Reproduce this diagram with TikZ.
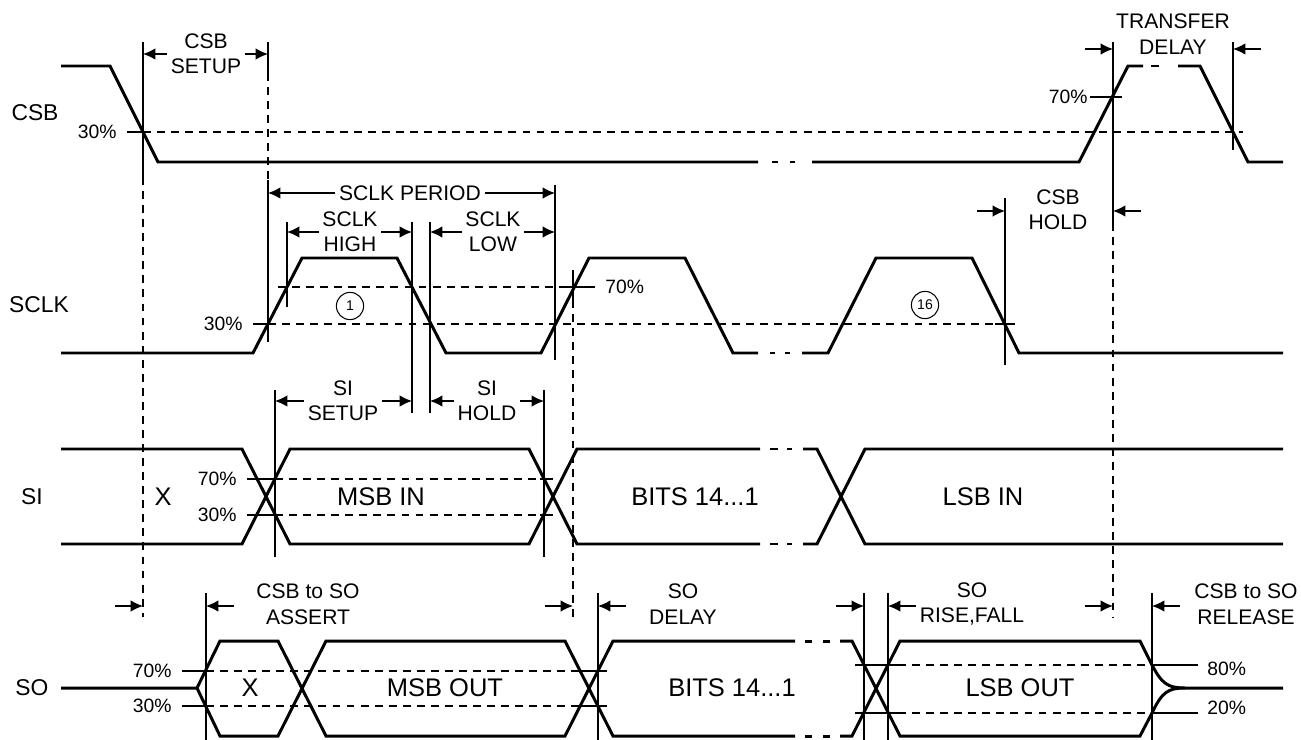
\documentclass[tikz,border=0pt]{standalone}
\usepackage{fontspec}
\setmainfont{Liberation Sans}
\usepackage{tikz}
\usetikzlibrary{arrows.meta, positioning}
\tikzstyle{wave} = [line width=1.7pt, line join=miter]
\tikzstyle{guide} = [line width=0.75pt]
\tikzstyle{level} = [line width=0.75pt, dash pattern=on 4.5pt off 3.5pt]
\tikzstyle{dim} = [line width=0.75pt, -{Latex[length=7pt, width=6.5pt]}]
\tikzstyle{rowlabel} = [font=\fontsize{13}{15}\selectfont]
\tikzstyle{datalabel} = [font=\fontsize{14.5}{17}\selectfont]
\tikzstyle{dimlabel} = [font=\fontsize{12}{14.5}\selectfont, align=center, inner sep=2pt]
\tikzstyle{pct} = [font=\fontsize{11}{13}\selectfont, inner sep=0pt]
\tikzstyle{bitnum} = [circle, draw, line width=0.6pt, minimum size=15.5pt, inner sep=0pt, font=\fontsize{8}{9}\selectfont]

\begin{document}
\begin{tikzpicture}[x=0.02cm, y=-0.02cm]
        \useasboundingbox (0,0) rectangle (1301,740);

        % Signal names
        \node (csb) [rowlabel] at (35,113) {CSB};
        \node (sclk) [rowlabel] at (39,305) {SCLK};
        \node (si) [rowlabel] at (32,497) {SI};
        \node (so) [rowlabel] at (32,688) {SO};

        % Timing markers
        \coordinate (tA) at (143,0);
        \coordinate (tB) at (268,0);
        \coordinate (tC) at (287,0);
        \coordinate (tD) at (412,0);
        \coordinate (tE) at (430,0);
        \coordinate (tF) at (555,0);
        \coordinate (tH) at (275,0);
        \coordinate (tI) at (544,0);

        % CSB
        \draw [wave] (61,66) -- (110,66) -- (158,162) -- (758,162);
        \draw [wave] (772,162) -- (778,162) (790,162) -- (795,162);
        \draw [wave] (812,162) -- (1079,162) -- (1128,66) -- (1143,66);
        \draw [wave] (1151,66) -- (1159,66);
        \draw [wave] (1178,66) -- (1200,66) -- (1248,162) -- (1283,162);
        \draw [guide] (127,132) -- (143,132);
        \draw [level] (143,132) -- (1243,132);
        \draw [guide] (1090,97) -- (1122,97);
        \node (csb30) [pct, anchor=east] at (117,132) {30\%};
        \node (csb70) [pct, anchor=east] at (1088,97) {70\%};

        % SCLK
        \draw [wave] (61,353) -- (253,353) -- (302,258) -- (397,258) -- (446,353) -- (541,353) -- (589,258) -- (685,258) -- (733,353) -- (758,353);
        \draw [wave] (770,353) -- (775,353) (785,353) -- (790,353);
        \draw [wave] (802,353) -- (828,353) -- (876,258) -- (972,258) -- (1019,353) -- (1283,353);
        \draw [level] (278,287) -- (567,287);
        \draw [guide] (567,287) -- (595,287);
        \draw [guide] (253,324) -- (268,324);
        \draw [level] (268,324) -- (995,324);
        \draw [guide] (995,324) -- (1015,324);
        \node (sclk30) [pct, anchor=east] at (243,324) {30\%};
        \node (sclk70) [pct, anchor=west] at (605,287) {70\%};
        \node (bit1) [bitnum] at (350,306) {1};
        \node (bit16) [bitnum] at (925,305) {16};

        % SI
        \draw [wave] (61,449) -- (242,449) -- (290,544) -- (529,544) -- (577,449) -- (760,449);
        \draw [wave] (61,544) -- (242,544) -- (290,449) -- (529,449) -- (577,544) -- (760,544);
        \draw [wave] (770,449) -- (778,449) (787,449) -- (792,449);
        \draw [wave] (770,544) -- (778,544) (787,544) -- (792,544);
        \draw [wave] (803,449) -- (817,449) -- (865,544) -- (1283,544);
        \draw [wave] (803,544) -- (817,544) -- (865,449) -- (1283,449);
        \draw [guide] (247,479) -- (275,479);
        \draw [level] (275,479) -- (540,479);
        \draw [guide] (540,479) -- (553,479);
        \draw [guide] (247,515) -- (275,515);
        \draw [level] (275,515) -- (540,515);
        \draw [guide] (540,515) -- (553,515);
        \node (si70) [pct, anchor=east] at (237,479) {70\%};
        \node (si30) [pct, anchor=east] at (237,515) {30\%};
        \node (sidx) [datalabel] at (163,497) {X};
        \node (msbin) [datalabel] at (381,497) {MSB IN};
        \node (bitsin) [datalabel] at (695,497) {BITS 14...1};
        \node (lsbin) [datalabel] at (983,497) {LSB IN};

        % SO
        \draw [wave] (61,688) -- (197,688) -- (220,641) -- (278,641) -- (326,736) -- (565,736) -- (613,641) -- (795,641);
        \draw [wave] (197,688) -- (220,736) -- (278,736) -- (326,641) -- (565,641) -- (613,736) -- (795,736);
        \draw [wave] (805,641) -- (812,641) (823,641) -- (830,641);
        \draw [wave] (805,736) -- (812,736) (823,736) -- (830,736);
        \draw [wave] (840,641) -- (852,641) -- (900,736) -- (1140,736) -- (1152,713) .. controls (1162,692) and (1168,688) .. (1185,688) -- (1283,688);
        \draw [wave] (840,736) -- (852,736) -- (900,641) -- (1140,641) -- (1152,665) .. controls (1162,684) and (1168,688) .. (1185,688);
        \draw [guide] (182,671) -- (206,671);
        \draw [level] (206,671) -- (580,671);
        \draw [guide] (580,671) -- (607,671);
        \draw [guide] (182,706) -- (206,706);
        \draw [level] (206,706) -- (580,706);
        \draw [guide] (580,706) -- (607,706);
        \draw [guide] (855,665) -- (898,665);
        \draw [level] (898,665) -- (1152,665);
        \draw [guide] (1152,665) -- (1198,665);
        \draw [guide] (855,713) -- (898,713);
        \draw [level] (898,713) -- (1152,713);
        \draw [guide] (1152,713) -- (1198,713);
        \node (so70) [pct, anchor=east] at (172,671) {70\%};
        \node (so30) [pct, anchor=east] at (172,706) {30\%};
        \node (so80) [pct, anchor=west] at (1207,669) {80\%};
        \node (so20) [pct, anchor=west] at (1207,708) {20\%};
        \node (sodx) [datalabel] at (250,688) {X};
        \node (msbout) [datalabel] at (445,688) {MSB OUT};
        \node (bitsout) [datalabel] at (732,688) {BITS 14...1};
        \node (lsbout) [datalabel] at (1020,688) {LSB OUT};

        % Guide lines
        \draw [guide] (143,42) -- (143,177);
        \draw [level] (143,177) -- (143,617);
        \draw [guide] (268,42) -- (268,73);
        \draw [level] (268,73) -- (268,180);
        \draw [guide] (268,180) -- (268,342);
        \draw [guide] (287,222) -- (287,307);
        \draw [guide] (412,222) -- (412,413);
        \draw [guide] (430,222) -- (430,413);
        \draw [guide] (555,185) -- (555,360);
        \draw [guide] (573,270) -- (573,300);
        \draw [level] (573,300) -- (573,617);
        \draw [guide] (275,390) -- (275,557);
        \draw [guide] (544,390) -- (544,557);
        \draw [guide] (1005,198) -- (1005,365);
        \draw [guide] (1113,42) -- (1113,223);
        \draw [level] (1113,223) -- (1113,617);
        \draw [guide] (1233,42) -- (1233,150);
        \draw [guide] (206,593) -- (206,740);
        \draw [guide] (598,593) -- (598,740);
        \draw [guide] (864,593) -- (864,740);
        \draw [guide] (888,593) -- (888,740);
        \draw [guide] (1152,593) -- (1152,740);

        % Inner timing labels
        \node (csbsetup) [dimlabel] at (206,54) {CSB\\SETUP};
        \node (period) [dimlabel] at (410,193) {SCLK PERIOD};
        \node (high) [dimlabel] at (350,232) {SCLK\\HIGH};
        \node (low) [dimlabel] at (493,232) {SCLK\\LOW};
        \node (sisetup) [dimlabel] at (343,401) {SI\\SETUP};
        \node (sihold) [dimlabel] at (487,401) {SI\\HOLD};

        \draw [dim] (csbsetup) -- (csbsetup -| tA);
        \draw [dim] (csbsetup) -- (csbsetup -| tB);
        \draw [dim] (period) -- (period -| tB);
        \draw [dim] (period) -- (period -| tF);
        \draw [dim] (high) -- (high -| tC);
        \draw [dim] (high) -- (high -| tD);
        \draw [dim] (low) -- (low -| tE);
        \draw [dim] (low) -- (low -| tF);
        \draw [dim] (sisetup) -- (sisetup -| tH);
        \draw [dim] (sisetup) -- (sisetup -| tD);
        \draw [dim] (sihold) -- (sihold -| tE);
        \draw [dim] (sihold) -- (sihold -| tI);

        % Outer timing labels
        \node (transfer) [dimlabel] at (1173,34) {TRANSFER\\DELAY};
        \node (csbhold) [dimlabel] at (1058,210) {CSB\\HOLD};
        \node (soassert) [dimlabel] at (308,604) {CSB to SO\\ASSERT};
        \node (sodelay) [dimlabel] at (683,604) {SO\\DELAY};
        \node (sorise) [dimlabel] at (972,604) {SO\\RISE,FALL};
        \node (sorelease) [dimlabel] at (1246,604) {CSB to SO\\RELEASE};

        \coordinate (tdA) at (1113,49);
        \coordinate (tdB) at (1233,49);
        \coordinate (hdA) at (1005,211);
        \coordinate (hdB) at (1113,211);
        \coordinate (soA) at (143,606);
        \coordinate (soB) at (206,606);
        \coordinate (soC) at (573,606);
        \coordinate (soD) at (598,606);
        \coordinate (soE) at (864,606);
        \coordinate (soF) at (888,606);
        \coordinate (soG) at (1113,606);
        \coordinate (soH) at (1152,606);

        \draw [dim] (tdA) ++(-28,0) -- (tdA);
        \draw [dim] (tdB) ++(28,0) -- (tdB);
        \draw [dim] (hdA) ++(-28,0) -- (hdA);
        \draw [dim] (hdB) ++(28,0) -- (hdB);
        \draw [dim] (soA) ++(-28,0) -- (soA);
        \draw [dim] (soB) ++(28,0) -- (soB);
        \draw [dim] (soC) ++(-28,0) -- (soC);
        \draw [dim] (soD) ++(28,0) -- (soD);
        \draw [dim] (soE) ++(-28,0) -- (soE);
        \draw [dim] (soF) ++(28,0) -- (soF);
        \draw [dim] (soG) ++(-28,0) -- (soG);
        \draw [dim] (soH) ++(28,0) -- (soH);
    \end{tikzpicture}
\end{document}
